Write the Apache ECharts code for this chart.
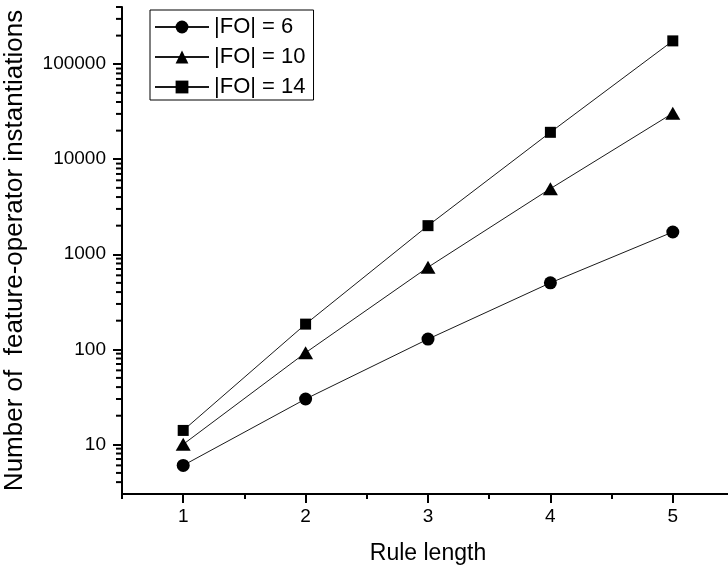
<!DOCTYPE html>
<html>
<head>
<meta charset="utf-8">
<script src="https://cdn.jsdelivr.net/npm/echarts@6/dist/echarts.min.js"></script>
<style>html,body{margin:0;padding:0;background:#fff;}#c{width:728px;height:568px;}</style>
</head>
<body>
<div id="c"></div>
<script>
const ruleLengths = [1, 2, 3, 4, 5];
const fo6 = [6, 30, 128, 500, 1715];
const fo10 = [10, 92, 730, 4900, 30500];
const fo14 = [14, 184, 2000, 19200, 176000];
const seriesNames = ['|FO| = 6', '|FO| = 10', '|FO| = 14'];
const xMajorTicks = [1, 2, 3, 4, 5];
const xMinorTicks = [0.5, 1.5, 2.5, 3.5, 4.5];
const yMajorTicks = [10, 100, 1000, 10000, 100000];
const yMinorTicks = [4, 5, 6, 7, 8, 9,
  20, 30, 40, 50, 60, 70, 80, 90,
  200, 300, 400, 500, 600, 700, 800, 900,
  2000, 3000, 4000, 5000, 6000, 7000, 8000, 9000,
  20000, 30000, 40000, 50000, 60000, 70000, 80000, 90000,
  200000, 300000, 400000];

const FONT = 'Liberation Sans';
const X_MIN = 0.5, X_MAX = 5.5, Y_MIN = 3, Y_MAX = 400000;
const pairs = arr => ruleLengths.map((x, i) => [x, arr[i]]);

const chart = echarts.init(document.getElementById('c'), null, {renderer: 'canvas'});
const lineStyle = {color: '#1a1a1a', width: 1};
const mk = (name, data, symbol, size) => ({
  name, type: 'line', data: pairs(data), symbol, symbolSize: size,
  xAxisIndex: 0, yAxisIndex: 0,
  lineStyle, itemStyle: {color: '#000'}, showSymbol: true, animation: false, z: 3
});

chart.setOption({
  animation: false,
  backgroundColor: '#fff',
  textStyle: {fontFamily: FONT},
  grid: {left: 122, top: 7, width: 612, height: 487, containLabel: false, outerBoundsMode: 'none'},
  legend: {
    orient: 'vertical', left: 150, top: 10,
    borderColor: '#000', borderWidth: 1,
    padding: [6, 8, 2, 4],
    itemWidth: 54, itemHeight: 16, itemGap: 8,
    textStyle: {fontFamily: FONT, fontSize: 22, color: '#000'},
    data: seriesNames
  },
  xAxis: [{
    type: 'value', min: X_MIN, max: X_MAX,
    axisLine: {lineStyle: {color: '#000', width: 2}},
    axisTick: {customValues: xMajorTicks, length: 9, lineStyle: {color: '#000', width: 2}},
    axisLabel: {customValues: xMajorTicks, fontFamily: FONT, fontSize: 19, color: '#000', margin: 13},
    splitLine: {show: false},
    name: 'Rule length', nameLocation: 'middle', nameGap: 48,
    nameTextStyle: {fontFamily: FONT, fontSize: 23, color: '#000'}
  }, {
    type: 'value', min: X_MIN, max: X_MAX, position: 'bottom',
    axisLine: {show: false},
    axisTick: {customValues: xMinorTicks, length: 5, lineStyle: {color: '#000', width: 2}},
    axisLabel: {show: false},
    splitLine: {show: false}
  }],
  yAxis: [{
    type: 'log', min: Y_MIN, max: Y_MAX,
    axisLine: {lineStyle: {color: '#000', width: 2}},
    axisTick: {customValues: yMajorTicks, length: 9, lineStyle: {color: '#000', width: 2}},
    axisLabel: {customValues: yMajorTicks, fontFamily: FONT, fontSize: 19, color: '#000', margin: 16,
      formatter: v => String(Math.round(v))},
    splitLine: {show: false},
    minorTick: {show: false},
    name: 'Number of  feature-operator instantiations', nameLocation: 'middle', nameGap: 94,
    nameTextStyle: {fontFamily: FONT, fontSize: 26, color: '#000'}
  }],
  series: [
    mk(seriesNames[0], fo6, 'circle', 13),
    mk(seriesNames[1], fo10, 'triangle', [15, 13]),
    mk(seriesNames[2], fo14, 'rect', 11)
  ]
});

// Minor ticks on the log axis, positioned through the chart's own scales
const tickEls = yMinorTicks.map((v, i) => {
  const p = chart.convertToPixel({xAxisIndex: 0, yAxisIndex: 0}, [X_MIN, v]);
  return {type: 'rect', id: 'mt' + i, silent: true, z: 100,
    shape: {x: p[0] - 6, y: p[1] - 1, width: 6, height: 2},
    style: {fill: '#000'}};
});
chart.setOption({graphic: tickEls});
</script>
</body>
</html>
